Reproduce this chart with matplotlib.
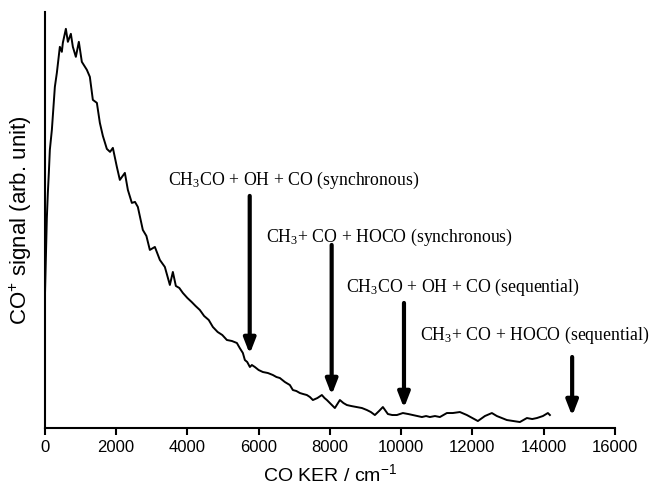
import matplotlib
matplotlib.use("Agg")
import matplotlib.pyplot as plt

plt.rcParams['font.family'] = ['Liberation Sans', 'DejaVu Sans']
plt.rcParams['mathtext.fontset'] = 'custom'
plt.rcParams['mathtext.rm'] = 'Liberation Serif'
plt.rcParams['mathtext.it'] = 'Liberation Serif:italic'
plt.rcParams['mathtext.sf'] = 'Liberation Sans'

# CO kinetic energy release spectrum
ker = [0, 28, 56, 84, 112, 140, 197, 281, 337, 421,
       477, 505, 590, 646, 730, 786, 870, 954, 1038, 1179,
       1263, 1347, 1460, 1544, 1628, 1740, 1830, 1909, 2021, 2105,
       2246, 2330, 2442, 2530, 2610, 2750, 2850, 2947, 3088, 3228,
       3368, 3440, 3509, 3593, 3677, 3774, 3874, 4000, 4120, 4230,
       4350, 4470, 4600, 4716, 4850, 4980, 5109, 5250, 5390, 5470,
       5558, 5614, 5680, 5755, 5810, 5895, 6000, 6119, 6260, 6400,
       6500, 6596, 6737, 6877, 6961, 7060, 7158, 7250, 7354, 7440,
       7523, 7650, 7775, 7850, 7916, 8030, 8140, 8281, 8380, 8477,
       8600, 8758, 8900, 9039, 9150, 9263, 9380, 9488, 9628, 9750,
       9881, 10049, 10200, 10330, 10450, 10583, 10700, 10807, 10950, 11088,
       11284, 11450, 11649, 11845, 12000, 12154, 12351, 12547, 12687, 12830,
       12968, 13150, 13333, 13530, 13680, 13811, 13979, 14119, 14175]
signal = [128, 170, 210, 235, 255, 278, 298, 341, 355, 381,
          376, 385, 399, 386, 394, 381, 371, 386, 366, 358,
          351, 328, 325, 305, 292, 279, 276, 280, 261, 248,
          255, 238, 225, 226, 221, 198, 192, 178, 181, 168,
          161, 152, 143, 156, 142, 140, 135, 130, 126, 122,
          118, 112, 108, 101, 96, 93, 88, 87, 85, 80,
          75, 68, 66, 61, 63, 61, 58, 56, 55, 53,
          51, 50, 46, 43, 38, 37, 35, 34, 33, 31,
          28, 30, 33, 30, 28, 24, 20, 28, 25, 23,
          22, 21, 20, 18, 16, 13, 17, 21, 14, 13,
          13, 15, 14, 13, 12, 11, 12, 11, 12, 11,
          15, 15, 16, 13, 10, 7, 12, 15, 12, 10,
          8, 7, 6, 10, 9, 10, 12, 15, 13]

# arrows: position, shaft top, tip (signal units)
arrow_x = [5750, 8050, 10080, 14800]
arrow_top = [232, 183, 125, 71]
arrow_tip = [74, 33, 20, 12]
arrow_labels = ["CH$_3$CO + OH + CO (synchronous)",
                "CH$_3$+ CO + HOCO (synchronous)",
                "CH$_3$CO + OH + CO (sequential)",
                "CH$_3$+ CO + HOCO (sequential)"]
label_x = [6990, 9685, 11733, 13740]
label_y = [243, 186, 136, 88]

fig = plt.figure(figsize=(6.5, 4.92), dpi=100)
ax = fig.add_axes([0.069, 0.130, 0.877, 0.846])

ax.plot(ker, signal, color='black', lw=1.4)

for x, top, tip, txt, lx, ly in zip(arrow_x, arrow_top, arrow_tip,
                                     arrow_labels, label_x, label_y):
    ax.annotate("", xy=(x, tip), xytext=(x, top),
                arrowprops=dict(arrowstyle="-|>,head_length=0.9,head_width=0.35",
                                lw=3, color='black', shrinkA=0, shrinkB=0))
    ax.text(lx, ly, txt, ha='center', va='baseline', fontsize=12.8,
            family='Liberation Serif', clip_on=False)

ax.set_xlim(0, 16000)
ax.set_ylim(0, 416)
ax.set_xticks(range(0, 16001, 2000))
ax.set_yticks([])
ax.spines['top'].set_visible(False)
ax.spines['right'].set_visible(False)
ax.spines['left'].set_linewidth(1.5)
ax.spines['bottom'].set_linewidth(1.5)
ax.tick_params(axis='x', direction='out', length=5, width=1.5, labelsize=12)
ax.set_xlabel(r"CO KER / cm$\mathsf{^{-1}}$", fontsize=14, labelpad=6)
ax.set_ylabel(r"CO$\mathsf{^{+}}$ signal (arb. unit)", fontsize=16, labelpad=8)

fig.savefig("out.png", dpi=100)
